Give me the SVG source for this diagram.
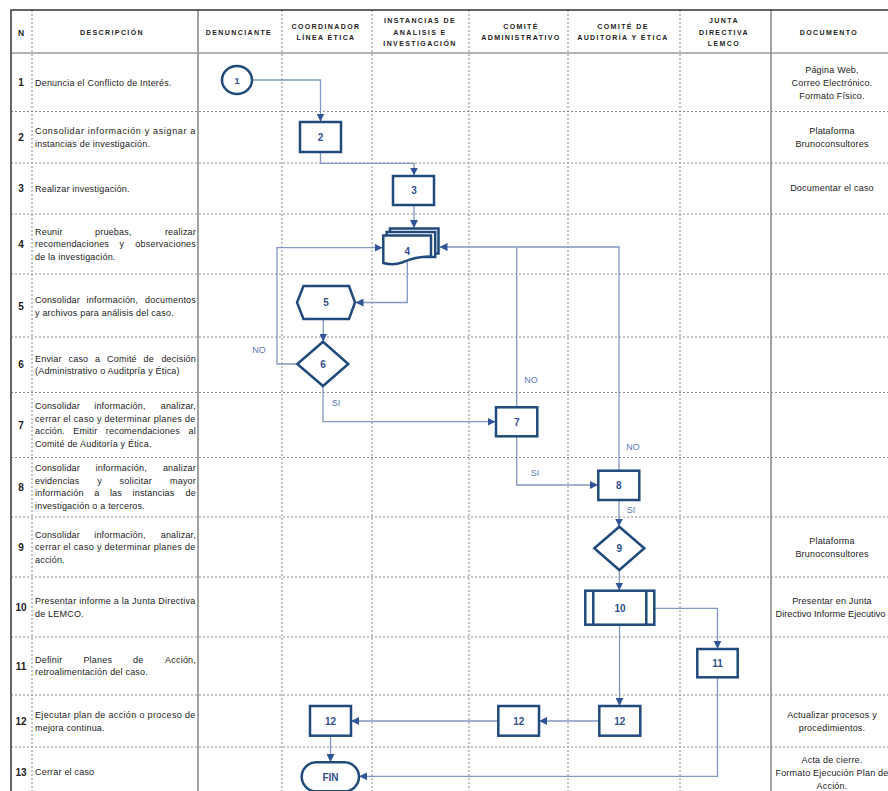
<svg xmlns="http://www.w3.org/2000/svg" width="888" height="791" viewBox="0 0 888 791">
<style>
.hd{font-family:"Liberation Sans",Arial,sans-serif;font-size:7px;font-weight:bold;fill:#222;letter-spacing:1.4px;text-anchor:middle}
.num{font-family:"Liberation Sans",Arial,sans-serif;font-size:10px;font-weight:bold;fill:#222;text-anchor:middle}
.ds{font-family:"Liberation Sans",Arial,sans-serif;font-size:9px;fill:#222;letter-spacing:0.2px}
.e{text-anchor:end}
.doc{font-family:"Liberation Sans",Arial,sans-serif;font-size:9px;fill:#222;letter-spacing:0.2px;text-anchor:middle}
.dot{stroke:#8a8a8a;stroke-width:1;stroke-dasharray:2,2;fill:none}
.sol{stroke:#a3a3a3;stroke-width:2;fill:none}
.brd{stroke:#333;stroke-width:1.5;fill:none}
.sh{fill:#fff;stroke:#1f4a7a;stroke-width:2.5}
.st{font-family:"Liberation Sans",Arial,sans-serif;font-size:10px;font-weight:bold;fill:#2f4f8f;text-anchor:middle}
.cn{fill:none;stroke:#8197c4;stroke-width:1.3;marker-end:url(#ah)}
.cn0{fill:none;stroke:#8197c4;stroke-width:1.3}
.lb{font-family:"Liberation Sans",Arial,sans-serif;font-size:9px;fill:#5a78b0;text-anchor:middle}
</style>
<defs>
<marker id="ah" viewBox="0 0 10 10" refX="10" refY="5" markerWidth="8" markerHeight="8" markerUnits="userSpaceOnUse" orient="auto"><path d="M0,0 L10,5 L0,10 z" fill="#2f5597"/></marker>
</defs>
<rect width="888" height="791" fill="#fff"/>
<g id="grid">
<path class="dot" d="M11,111.5H888M11,163H888M11,214H888M11,274H888M11,337H888M11,392.5H888M11,457.5H888M11,517H888M11,577H888M11,637H888M11,695H888M11,747H888"/>
<path class="dot" d="M32,10V791M282,10V791M372,10V791M469,10V791M568,10V791M680,10V791"/>
<path class="sol" d="M198,10V791M771,10V791"/>
<path d="M11,53H888" stroke="#9a9a9a" stroke-width="1.5"/>
<path class="brd" d="M11,791V10H888"/>
</g>
<g id="header">
<text class="hd" x="21" y="36" style="font-size:8.5px;letter-spacing:0">N</text>
<text class="hd" x="112" y="35">DESCRIPCIÓN</text>
<text class="hd" x="239" y="35">DENUNCIANTE</text>
<text class="hd" x="326" y="29">COORDINADOR</text>
<text class="hd" x="326" y="40">LÍNEA ÉTICA</text>
<text class="hd" x="420" y="23">INSTANCIAS DE</text>
<text class="hd" x="420" y="34.5">ANALISIS E</text>
<text class="hd" x="420" y="45.5">INVESTIGACIÓN</text>
<text class="hd" x="521" y="29">COMITÉ</text>
<text class="hd" x="521" y="40">ADMINISTRATIVO</text>
<text class="hd" x="623" y="29">COMITÉ DE</text>
<text class="hd" x="623" y="40">AUDITORÍA Y ÉTICA</text>
<text class="hd" x="724" y="23">JUNTA</text>
<text class="hd" x="724" y="34.5">DIRECTIVA</text>
<text class="hd" x="724" y="45.5">LEMCO</text>
<text class="hd" x="829" y="35">DOCUMENTO</text>
</g>
<g id="rownums">
<text class="num" x="21" y="86">1</text>
<text class="num" x="21" y="141">2</text>
<text class="num" x="21" y="192">3</text>
<text class="num" x="21" y="248">4</text>
<text class="num" x="21" y="310">5</text>
<text class="num" x="21" y="368">6</text>
<text class="num" x="21" y="429">7</text>
<text class="num" x="21" y="491">8</text>
<text class="num" x="21" y="551">9</text>
<text class="num" x="21" y="611">10</text>
<text class="num" x="21" y="670">11</text>
<text class="num" x="21" y="725">12</text>
<text class="num" x="21" y="776">13</text>
</g>
<g id="descriptions">
<text class="ds" x="35" y="85.5">Denuncia el Conflicto de Interés.</text>
<text class="ds" x="35" y="134" textLength="160.5" lengthAdjust="spacing">Consolidar información y asignar a</text>
<text class="ds" x="35" y="146.5">instancias de investigación.</text>
<text class="ds" x="35" y="191.5">Realizar investigación.</text>
<text class="ds" y="234.5"><tspan x="35">Reunir</tspan> <tspan x="95">pruebas,</tspan> <tspan x="196" class="e">realizar</tspan></text>
<text class="ds" y="247"><tspan x="35">recomendaciones</tspan> <tspan x="119.6">y</tspan> <tspan x="196" class="e">observaciones</tspan></text>
<text class="ds" x="35" y="259.5">de la investigación.</text>
<text class="ds" y="303"><tspan x="35">Consolidar</tspan> <tspan x="86.6">información,</tspan> <tspan x="196" class="e">documentos</tspan></text>
<text class="ds" x="35" y="315.5">y archivos para análisis del caso.</text>
<text class="ds" y="361.5"><tspan x="35">Enviar</tspan> <tspan x="68.5">caso</tspan> <tspan x="95.1">a</tspan> <tspan x="107.1">Comité</tspan> <tspan x="143.6">de</tspan> <tspan x="196" class="e">decisión</tspan></text>
<text class="ds" x="35" y="374">(Administrativo o Auditpría y Ética)</text>
<text class="ds" y="409"><tspan x="35">Consolidar</tspan> <tspan x="94.2">información,</tspan> <tspan x="196" class="e">analizar,</tspan></text>
<text class="ds" x="35" y="421.5" textLength="160.5" lengthAdjust="spacing">cerrar el caso y determinar planes de</text>
<text class="ds" y="434"><tspan x="35">acción.</tspan> <tspan x="73.2">Emitir</tspan> <tspan x="105.8">recomendaciones</tspan> <tspan x="196" class="e">al</tspan></text>
<text class="ds" x="35" y="446.5">Comité de Auditoría y Ética.</text>
<text class="ds" y="471"><tspan x="35">Consolidar</tspan> <tspan x="95.5">información,</tspan> <tspan x="196" class="e">analizar</tspan></text>
<text class="ds" y="483.5"><tspan x="35">evidencias</tspan> <tspan x="97.2">y</tspan> <tspan x="119.6">solicitar</tspan> <tspan x="196" class="e">mayor</tspan></text>
<text class="ds" y="496"><tspan x="35">información</tspan> <tspan x="94.2">a</tspan> <tspan x="109.9">las</tspan> <tspan x="132.5">instancias</tspan> <tspan x="196" class="e">de</tspan></text>
<text class="ds" x="35" y="508.5">investigación o a terceros.</text>
<text class="ds" y="537.5"><tspan x="35">Consolidar</tspan> <tspan x="94.2">información,</tspan> <tspan x="196" class="e">analizar,</tspan></text>
<text class="ds" x="35" y="550" textLength="160.5" lengthAdjust="spacing">cerrar el caso y determinar planes de</text>
<text class="ds" x="35" y="562.5">acción.</text>
<text class="ds" x="35" y="604" textLength="160.5" lengthAdjust="spacing">Presentar informe a la Junta Directiva</text>
<text class="ds" x="35" y="616.5">de LEMCO.</text>
<text class="ds" y="662.5"><tspan x="35">Definir</tspan> <tspan x="83.4">Planes</tspan> <tspan x="133.1">de</tspan> <tspan x="196" class="e">Acción,</tspan></text>
<text class="ds" x="35" y="675">retroalimentación del caso.</text>
<text class="ds" x="35" y="718" textLength="160.5" lengthAdjust="spacing">Ejecutar plan de acción o proceso de</text>
<text class="ds" x="35" y="730.5">mejora continua.</text>
<text class="ds" x="35" y="775">Cerrar el caso</text>
</g>
<g id="documents">
<text class="doc" x="832" y="73">Página Web,</text>
<text class="doc" x="832" y="86">Correo Electrónico.</text>
<text class="doc" x="832" y="99">Formato Físico.</text>
<text class="doc" x="832" y="134">Plataforma</text>
<text class="doc" x="832" y="147">Brunoconsultores</text>
<text class="doc" x="832" y="191">Documentar el caso</text>
<text class="doc" x="832" y="544">Plataforma</text>
<text class="doc" x="832" y="557">Brunoconsultores</text>
<text class="doc" x="832" y="604">Presentar en Junta</text>
<text class="doc" x="830.5" y="617" style="letter-spacing:0" textLength="110" lengthAdjust="spacingAndGlyphs">Directivo Informe Ejecutivo</text>
<text class="doc" x="832" y="718">Actualizar procesos y</text>
<text class="doc" x="832" y="731">procedimientos.</text>
<text class="doc" x="832" y="763">Acta de cierre.</text>
<text class="doc" x="832" y="776">Formato Ejecución Plan de</text>
<text class="doc" x="832" y="789">Acción.</text>
</g>
<g id="connectors">
<path class="cn" d="M252,80H320.5V121.5"/>
<path class="cn" d="M320.5,152V163.3H414V175.5"/>
<path class="cn" d="M414,205V228"/>
<path class="cn" d="M297,364H277V247.7H382.5"/>
<path class="cn" d="M407.3,260V302.5H355.5"/>
<path class="cn" d="M323.3,319V341.5"/>
<path class="cn" d="M323,386V421.7H495.5"/>
<path class="cn0" d="M619,470.5V247H517"/>
<path class="cn" d="M516.7,407V247H439.5"/>
<path class="cn" d="M516.7,436.5V485H598"/>
<path class="cn" d="M619,500V526.5"/>
<path class="cn" d="M619.3,570V590.5"/>
<path class="cn" d="M654.5,608.3H717.5V648.8"/>
<path class="cn" d="M619.5,624.7V705.8"/>
<path class="cn" d="M599.3,721H539.2"/>
<path class="cn" d="M498.3,721H351.2"/>
<path class="cn" d="M330.5,735.7V762"/>
<path class="cn" d="M717.5,677.3V776.3H359.2"/>
<text class="lb" x="259" y="352.5">NO</text>
<text class="lb" x="336" y="406">SI</text>
<text class="lb" x="531" y="383">NO</text>
<text class="lb" x="535" y="476">SI</text>
<text class="lb" x="633" y="450">NO</text>
<text class="lb" x="631" y="513">SI</text>
</g>
<g id="n1"><ellipse class="sh" cx="237" cy="80" rx="15" ry="14"/><text class="st" x="237" y="83.5" style="font-size:9px">1</text></g>
<g id="n2"><rect class="sh" x="300" y="122" width="41" height="30"/><text class="st" x="320.5" y="140.5">2</text></g>
<g id="n3"><rect class="sh" x="393" y="176" width="41" height="29"/><text class="st" x="414" y="194">3</text></g>
<g id="n4">
<rect class="sh" x="390" y="228.5" width="48.5" height="25"/>
<rect class="sh" x="386.7" y="232" width="48.5" height="25"/>
<path class="sh" d="M383.3,235.5H431V256.5C418,256 410,259 402,262.5C395,265 389,264.5 383.3,263Z"/>
<text class="st" x="407.3" y="254.5">4</text>
</g>
<g id="n5"><path class="sh" d="M297,302.5L303.5,286H349L355,302.5L349,319H303.5Z"/><text class="st" x="326" y="306">5</text></g>
<g id="n6"><path class="sh" d="M323,341.7L348.3,364L323,386L297.3,364Z"/><text class="st" x="323" y="367.5">6</text></g>
<g id="n7"><rect class="sh" x="496" y="407.3" width="41.3" height="29"/><text class="st" x="516.7" y="425.5">7</text></g>
<g id="n8"><rect class="sh" x="598.3" y="470.7" width="41" height="29.3"/><text class="st" x="618.8" y="489">8</text></g>
<g id="n9"><path class="sh" d="M619.3,526.7L644.3,548.3L619.3,570L594.3,548.3Z"/><text class="st" x="619.3" y="552">9</text></g>
<g id="n10"><rect class="sh" x="585.3" y="590.7" width="69" height="34"/><path class="sh" d="M593.3,590.7V624.7M646.3,590.7V624.7"/><text class="st" x="620" y="611.5">10</text></g>
<g id="n11"><rect class="sh" x="697.3" y="649" width="40.4" height="28.3"/><text class="st" x="717.5" y="666.5">11</text></g>
<g id="n12c"><rect class="sh" x="599.3" y="706" width="41" height="29.7"/><text class="st" x="619.8" y="724.5">12</text></g>
<g id="n12b"><rect class="sh" x="498.3" y="706" width="40.7" height="29.7"/><text class="st" x="518.7" y="724.5">12</text></g>
<g id="n12a"><rect class="sh" x="310" y="706" width="41" height="29.7"/><text class="st" x="330.5" y="724.5">12</text></g>
<g id="nfin"><rect class="sh" x="301.7" y="762.3" width="57.3" height="29" rx="14.5"/><text class="st" x="330.5" y="780.5">FIN</text></g>
</svg>
